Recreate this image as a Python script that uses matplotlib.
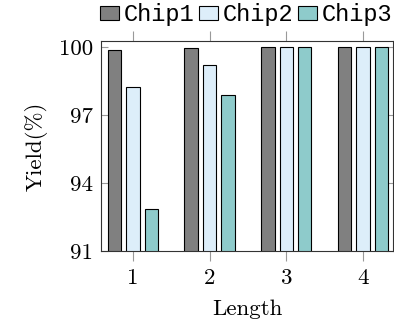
import matplotlib
matplotlib.use("Agg")
import matplotlib.pyplot as plt
import numpy as np

lengths = [1, 2, 3, 4]
series_names = ["Chip1", "Chip2", "Chip3"]
chip1 = [99.87, 99.95, 100.0, 100.0]
chip2 = [98.22, 99.2, 100.0, 100.0]
chip3 = [92.85, 97.9, 100.0, 100.0]
yticks = [91, 94, 97, 100]

colors = ["#808080", "#ddeefa", "#8ecbcb"]

plt.rcParams['axes.formatter.use_mathtext'] = True
fig = plt.figure(figsize=(3.94, 3.26), dpi=100)
ax = fig.add_axes([101/394, 75/326, 292/394, 210/326])

x = np.array(lengths, dtype=float)
w = 0.175
off = 0.24
handles = []
for i, (vals, c, name) in enumerate(zip([chip1, chip2, chip3], colors, series_names)):
    b = ax.bar(x + (i - 1) * off, vals, width=w, color=c, edgecolor="black",
               linewidth=0.8, label=name, zorder=2)
    handles.append(b)

ax.set_ylim(91, 100.26)
ax.set_xlim(0.585, 4.39)
ax.set_yticks(yticks)
ax.set_xticks(lengths)
serif = "cmr10"
ax.set_yticklabels([str(t) for t in yticks], fontfamily=serif, fontsize=16.5)
ax.set_xticklabels([str(t) for t in lengths], fontfamily=serif, fontsize=16.5)
ax.tick_params(axis='x', direction='out', length=7.5, width=0.8, color='#999999',
               top=True, bottom=True, pad=5)
ax.tick_params(axis='y', direction='in', length=5, width=0.8, color='#999999',
               left=True, right=True, pad=6)
for s in ax.spines.values():
    s.set_linewidth(0.8)
    s.set_color('#333333')

ax.set_ylabel("Yield(%)", fontfamily=serif, fontsize=16.5, labelpad=8)
ax.set_xlabel("Length", fontfamily=serif, fontsize=16.5, labelpad=8)

leg = fig.legend(handles=handles, labels=series_names, loc='center',
                 bbox_to_anchor=(246/394, 1 - 15/326), ncol=3, frameon=False,
                 prop={'family': 'Liberation Mono', 'size': 17},
                 handlelength=0.8, handleheight=0.5, handletextpad=0.2,
                 columnspacing=0.2, borderpad=0)

fig.savefig("out.png", dpi=100)
